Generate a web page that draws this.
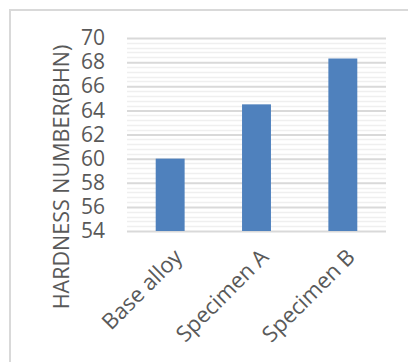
<!DOCTYPE html>
<html lang="en">
  <head>
    <meta charset="UTF-8" />
    <title>Hardness</title>
    <style>
      html, body { margin: 0; padding: 0; background: #fff; }
      svg { display: block; }
    </style>
  </head>
  <body>
    <div class="chart"></div>
    <script src="https://d3js.org/d3.v7.min.js"></script>
    <script>
      // data
      const categories = ["Base alloy", "Specimen A", "Specimen B"];
      const hardness = [60, 64.5, 68.3];
      const yTicks = [54, 56, 58, 60, 62, 64, 66, 68, 70];

      const drawChart = () => {
        const width = 408;
        const height = 362;
        const plot = { left: 127, right: 386, top: 38, bottom: 231 };
        const font = "'Open Sans', sans-serif";

        const svg = d3
          .select(".chart")
          .append("svg")
          .attr("width", width)
          .attr("height", height);

        // chart border
        svg
          .append("rect")
          .attr("x", 10)
          .attr("y", 10)
          .attr("width", 420)
          .attr("height", 400)
          .attr("fill", "none")
          .attr("stroke", "#d9d9d9")
          .attr("stroke-width", 2);

        const yScale = d3
          .scaleLinear()
          .domain([54, 70])
          .range([plot.bottom, plot.top]);

        const xScale = d3
          .scaleBand()
          .domain(categories)
          .range([plot.left, plot.right])
          .paddingInner(0.665)
          .paddingOuter(0.3325);

        // minor gridlines
        const minor = d3.range(54, 70.001, 0.4).filter((v) => Math.abs(v / 2 - Math.round(v / 2)) > 0.01);
        svg
          .append("g")
          .selectAll("line")
          .data(minor)
          .join("line")
          .attr("x1", plot.left)
          .attr("x2", plot.right)
          .attr("y1", (d) => Math.round(yScale(d)) + 0.5)
          .attr("y2", (d) => Math.round(yScale(d)) + 0.5)
          .attr("stroke", "#efefef")
          .attr("stroke-width", 1.5);

        // major gridlines
        const yAxis = d3
          .axisLeft(yScale)
          .tickValues(yTicks)
          .tickSize(-(plot.right - plot.left))
          .tickPadding(22)
          .tickFormat(d3.format("d"));

        svg
          .append("g")
          .attr("transform", `translate(${plot.left},0)`)
          .call(yAxis)
          .call((g) => g.select(".domain").remove())
          .call((g) => g.selectAll(".tick line").attr("stroke", "#d9d9d9").attr("stroke-width", 2))
          .call((g) =>
            g
              .selectAll(".tick text")
              .attr("fill", "#595959")
              .attr("font-family", font)
              .attr("font-size", 21)
          );

        // bars
        svg
          .append("g")
          .selectAll("rect")
          .data(hardness)
          .join("rect")
          .attr("x", (d, i) => xScale(categories[i]))
          .attr("y", (d) => yScale(d))
          .attr("width", xScale.bandwidth())
          .attr("height", (d) => yScale(54) - yScale(d))
          .attr("fill", "#4f81bd");

        // category labels, rotated
        svg
          .append("g")
          .selectAll("text")
          .data(categories)
          .join("text")
          .attr("transform", (d) => `translate(${xScale(d) + xScale.bandwidth() / 2 + 8},${plot.bottom + 22}) rotate(-45)`)
          .attr("text-anchor", "end")
          .attr("dy", "0.35em")
          .attr("fill", "#595959")
          .attr("font-family", font)
          .attr("font-size", 22)
          .text((d) => d);

        // y axis title
        svg
          .append("text")
          .attr("transform", `translate(69,177) rotate(-90)`)
          .attr("text-anchor", "middle")
          .attr("fill", "#595959")
          .attr("font-family", font)
          .attr("font-size", 21.5)
          .text("HARDNESS NUMBER(BHN)");
      };

      drawChart();
    </script>
  </body>
</html>
